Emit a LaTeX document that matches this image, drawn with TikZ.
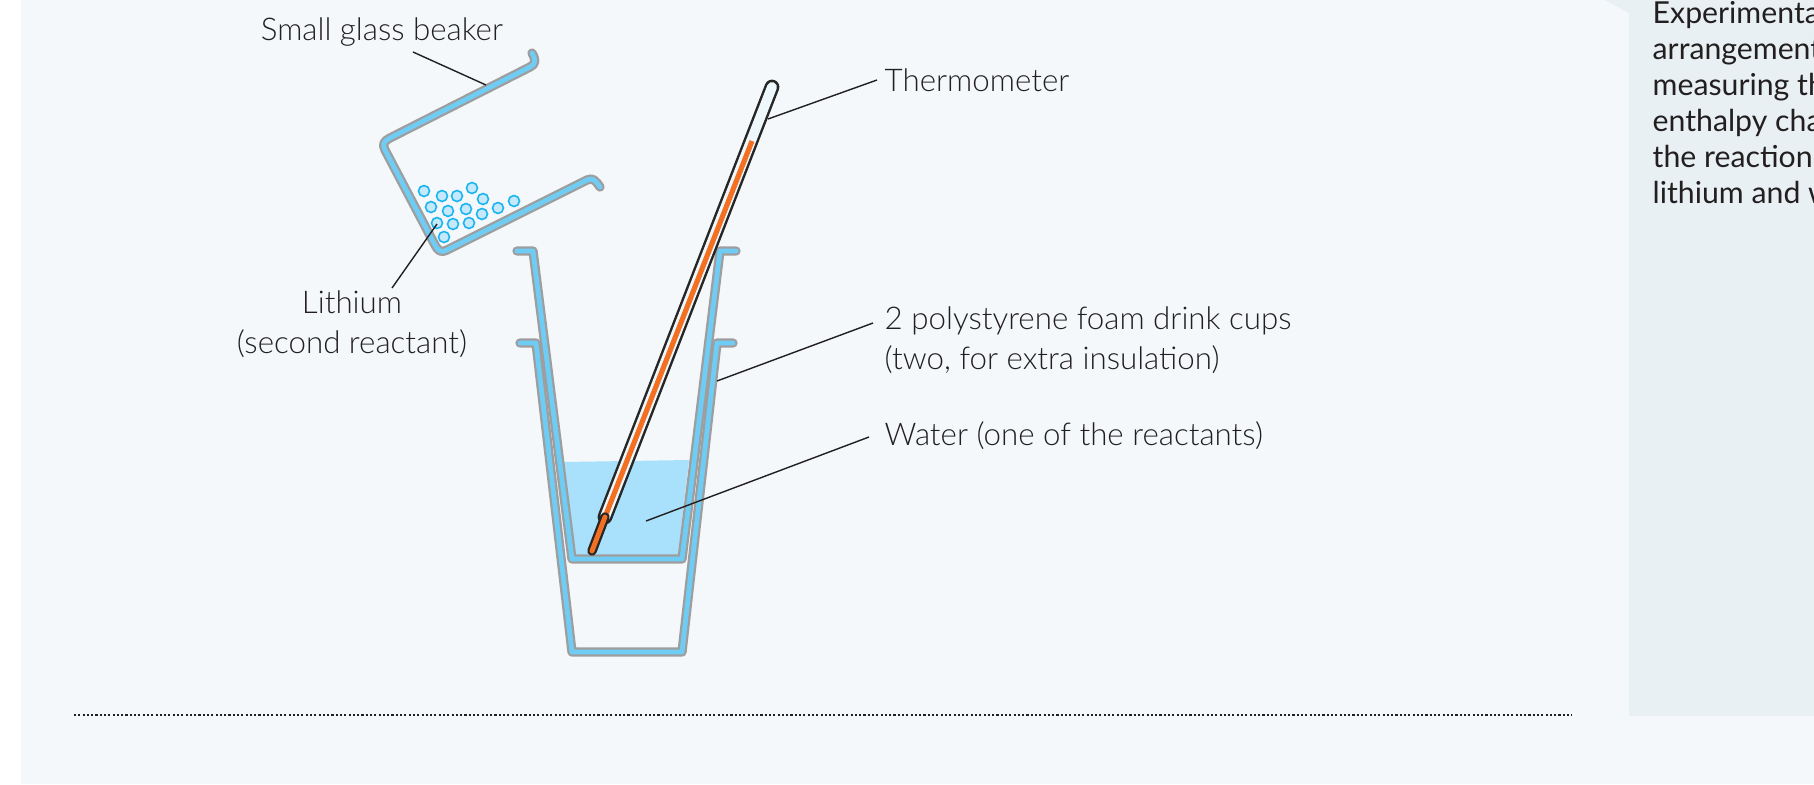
\documentclass[tikz,border=0pt]{standalone}
\usepackage{fontspec}
\setmainfont{Lato}[UprightFont=* Light]
\newfontfamily\sidefont{Lato}
\usetikzlibrary{positioning, arrows.meta, calc}

\definecolor{pagebg}{HTML}{F4F8FB}
\definecolor{sidebg}{HTML}{E8F0F3}
\definecolor{glassgray}{HTML}{9E9E9E}
\definecolor{glassblue}{HTML}{6FCDF5}
\definecolor{waterblue}{HTML}{A9E0FB}
\definecolor{lithline}{HTML}{19B5F1}
\definecolor{lithfill}{HTML}{C5E8FA}
\definecolor{mercury}{HTML}{F36F21}
\definecolor{tubefill}{HTML}{EDF7FC}
\definecolor{inktext}{HTML}{231F20}

\begin{document}
\begin{tikzpicture}[
    x=0.01cm, y=-0.01cm,
    glass/.style={draw=glassgray, double=glassblue, line width=0.65pt, double distance=1.35pt, line cap=round, line join=round},
    lithium/.style={draw=lithline, fill=lithfill, line width=0.45pt},
    leader/.style={draw=inktext, line width=0.4pt},
    label/.style={text=inktext, font=\fontsize{8.9}{11.4}\selectfont, align=left, inner sep=0pt},
    sidetext/.style={text=inktext, font=\sidefont\fontsize{8.6}{10.2}\selectfont, align=left, inner sep=0pt},
]

% Page and side panel
\fill[white] (0,0) rectangle (1814,784);
\useasboundingbox (0,0) rectangle (1814,784);
\fill[pagebg] (21,0) rectangle (1814,784);
\fill[sidebg] (1605,0) -- (1629,13) -- (1629,716) -- (1814,716) -- (1814,0) -- cycle;

% Water
\fill[waterblue] (564,462) -- (689,460) -- (678,557) -- (575,557) -- cycle;

% Cups
\draw[glass] (520,343) -- (536,343) -- (572,652) -- (682,652) -- (717,343) -- (733,343);
\draw[glass] (517,251) -- (533,251) -- (572,559) -- (682,559) -- (720,251) -- (736,251);

% Thermometer
\draw[draw=black!85, double=tubefill, line width=0.7pt, double distance=2.8pt, line cap=round] (772,87) -- (605,517);
\draw[mercury, line width=1.45pt] (752,141) -- (605,517);
\draw[draw=black!85, double=mercury, line width=0.65pt, double distance=1.4pt, line cap=round] (605,517) -- (592,551);

% Beaker
\draw[glass] (532,53) .. controls (536,60) and (536,64) .. (530,67) -- (390,138)
    .. controls (384,141) and (382,144) .. (385,150) -- (435,245)
    .. controls (438,251) and (441,253) .. (447,250) -- (587,180)
    .. controls (593,177) and (596,181) .. (600,187);

% Lithium pieces
\foreach \px/\py in {424/191, 442/196, 457/196, 472/188, 483/199, 514/201, 498/208, 482/214,
                     466/209, 448/211, 431/207, 437/223, 453/224, 469/223, 444/237}
    \draw[lithium] (\px,\py) circle (5.5);

% Labels
\node[label, align=center] (beakerlabel) at (382,32) {Small glass beaker};
\node[label, align=center] (lithiumlabel) at (352,324) {Lithium\\(second reactant)};
\node[label, anchor=west] (thermolabel) at (884,80) {Thermometer};
\node[label, anchor=west] (cupslabel) at (884,340) {2 polystyrene foam drink cups\\(two, for extra insulation)};
\node[label, anchor=west] (waterlabel) at (884,436) {Water (one of the reactants)};

% Leader ends
\coordinate (beakerend) at (486,85);
\coordinate (lithiumend) at (437,224);
\coordinate (thermoend) at (768,119);
\coordinate (cupsend) at (717,381);
\coordinate (waterend) at (646,521);

% Leaders
\draw[leader] ([shift={(31,20)}]beakerlabel.center) -- (beakerend);
\draw[leader] ([shift={(40,-36)}]lithiumlabel.center) -- (lithiumend);
\draw[leader] ([shift={(-7,0)}]thermolabel.west) -- (thermoend);
\draw[leader] ([shift={(-11,-17)}]cupslabel.west) -- (cupsend);
\draw[leader] ([shift={(-15,1)}]waterlabel.west) -- (waterend);

% Rule
\coordinate (rulestart) at (74,715);
\coordinate (ruleend) at (1572,715);
\draw[inktext, line width=0.45pt, dash pattern=on 0.6pt off 0.62pt] (rulestart) -- (ruleend);

% Side text
\node[sidetext, anchor=north west] (sidenote) at (1652,1) {Experimental\\arrangement\\measuring the\\enthalpy change\\the reaction\\lithium and water};

\end{tikzpicture}
\end{document}
